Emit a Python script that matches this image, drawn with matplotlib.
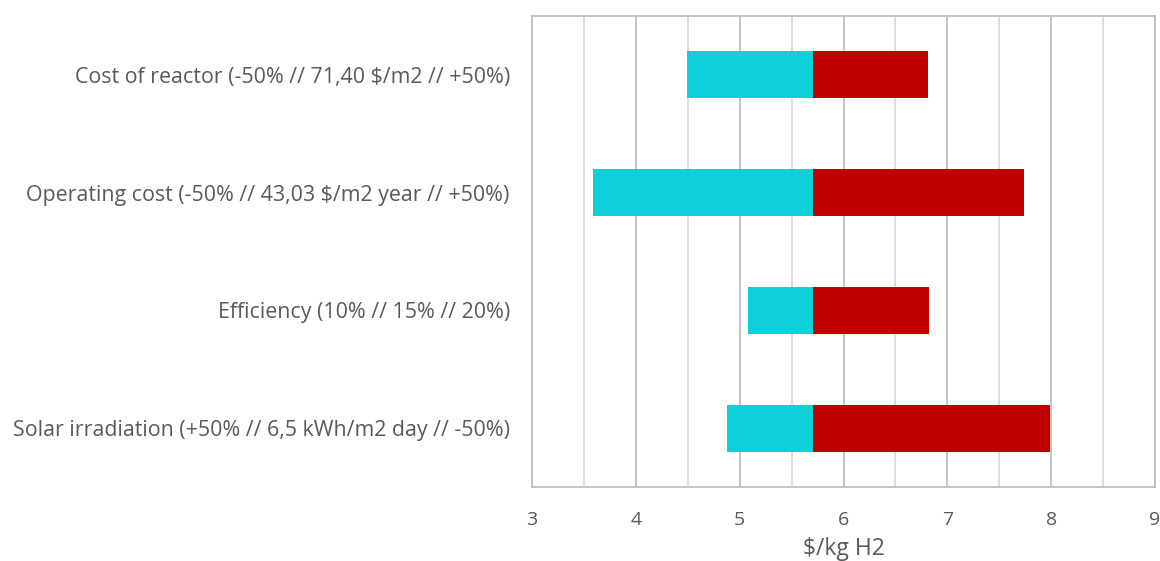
import matplotlib
matplotlib.use("Agg")
import matplotlib.pyplot as plt
from matplotlib.ticker import MultipleLocator

plt.rcParams['text.parse_math'] = False
plt.rcParams['font.family'] = ['Open Sans', 'DejaVu Sans']

categories = [
    "Cost of reactor (-50% // 71,40 $/m2 // +50%)",
    "Operating cost (-50% // 43,03 $/m2 year // +50%)",
    "Efficiency (10% // 15% // 20%)",
    "Solar irradiation (+50% // 6,5 kWh/m2 day // -50%)",
]
base_value = 5.71
low_values = [4.49, 3.59, 5.08, 4.88]
high_values = [6.81, 7.74, 6.82, 7.99]
x_ticks = [3, 4, 5, 6, 7, 8, 9]
x_label = "$/kg H2"

fig = plt.figure(figsize=(11.6, 5.61), dpi=100)
ax = fig.add_axes([532/1160, 1-487/561, (1155-532)/1160, (487-16)/561])

ypos = list(range(len(categories)))
ax.barh(ypos, [base_value - v for v in low_values], left=low_values, height=0.4,
        color="#0dd0d9", zorder=3)
ax.barh(ypos, [v - base_value for v in high_values], left=base_value, height=0.4,
        color="#c00000", zorder=3)

ax.set_xlim(3, 9)
ax.set_ylim(3.5, -0.5)
ax.set_xticks(x_ticks)
ax.xaxis.set_minor_locator(MultipleLocator(0.5))
ax.set_yticks(ypos)
ax.set_yticklabels(categories)

ax.grid(True, axis='x', which='major', color="#bfbfbf", linewidth=1.3, zorder=0)
ax.grid(True, axis='x', which='minor', color="#d9d9d9", linewidth=1.3, zorder=0)
ax.set_axisbelow(True)

for s in ax.spines.values():
    s.set_color("#bfbfbf")
    s.set_linewidth(1.3)

ax.tick_params(axis='both', which='both', length=0)
ax.tick_params(axis='x', labelsize=14, labelcolor="#595959", pad=17)
ax.tick_params(axis='y', labelsize=15.4, labelcolor="#595959", pad=16)
ax.set_xlabel(x_label, fontsize=16.5, color="#595959", labelpad=6)

fig.savefig("out.png", dpi=100)
